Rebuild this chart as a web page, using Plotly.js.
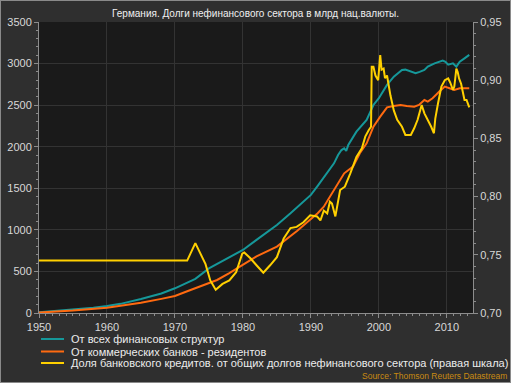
<!DOCTYPE html>
<html>
<head>
<meta charset="utf-8">
<script src="https://cdn.plot.ly/plotly-3.0.1.min.js"></script>
<style>
html,body{margin:0;padding:0;background:#2f2f2f;}
#chart{position:absolute;left:0;top:0;width:511px;height:383px;}
#frame{position:absolute;left:0;top:0;width:509px;height:381px;border:1px solid #8a8a8a;pointer-events:none;}
</style>
</head>
<body>
<div id="chart"></div>
<div id="frame"></div>
<script>
// Series 1: all financial structures (bn, left axis)
const allYears = [1950,1952,1955,1958,1960,1962,1965,1968,1970,1972,1973,1975,1978,1980,1982,1985,1987,1988,1990,1991,1992.5,1993.4,1994,1994.5,1994.9,1995.2,1995.5,1996.7,1998.2,1999.2,2000,2001.2,2002.2,2003.4,2003.9,2004.7,2005.4,2006,2006.7,2007.2,2008.2,2009.4,2009.8,2010.2,2010.9,2011.4,2011.9,2012.6,2013.3];
const allValues = [8,20,38,62,84,110,168,235,297,377,410,537,670,758,880,1059,1199,1270,1420,1530,1700,1800,1900,1960,1981,1950,2020,2181,2322,2502,2583,2743,2843,2923,2927,2903,2883,2900,2923,2963,3003,3035,3020,2987,3003,2963,3023,3063,3104];

// Series 2: resident commercial banks (bn, left axis)
const bankYears = [1950,1955,1960,1962,1965,1968,1970,1972,1974,1976.2,1978,1980,1982,1985,1987,1988,1990,1991,1991.9,1993.4,1994.9,1996.2,1997.2,1998.2,1999.2,2000.2,2001.2,2002.2,2003.2,2004.1,2005.2,2005.9,2006.7,2007.2,2007.9,2008.9,2009.7,2010.4,2011.1,2011.9,2013.3];
const bankValues = [5,30,64,85,124,170,204,268,330,397,480,577,680,798,920,990,1130,1200,1279,1480,1680,1760,1921,2041,2241,2362,2474,2490,2502,2490,2482,2502,2562,2543,2583,2663,2723,2703,2683,2703,2703];

// Series 3: share of bank credit in total non-financial debt (right axis)
const shareYears = [1950,1971.8,1973.0,1974.0,1974.5,1975.2,1976.0,1977,1978,1979,1979.9,1980.2,1981.1,1982,1983.0,1984.0,1985,1986,1987,1987.9,1988.9,1989.9,1990.9,1991.4,1991.9,1992.4,1992.8,1993.1,1993.6,1994.3,1995.0,1995.8,1996.7,1997.5,1998.0,1998.5,1998.85,1998.95,1999.2,1999.5,1999.9,2000.2,2000.4,2000.7,2000.9,2001.2,2001.4,2001.7,2002.2,2002.7,2003.4,2003.9,2004.7,2005.2,2005.7,2006.3,2006.7,2007.2,2007.7,2008.1,2008.3,2008.7,2009.2,2009.7,2010.2,2010.5,2010.9,2011.1,2011.4,2011.6,2011.8,2012.1,2012.3,2012.6,2012.9,2013.3];
const shareValues = [0.745,0.745,0.760,0.748,0.742,0.728,0.720,0.725,0.728,0.735,0.751,0.752,0.747,0.741,0.7346,0.741,0.748,0.764,0.773,0.774,0.778,0.784,0.783,0.7795,0.788,0.7856,0.7956,0.794,0.783,0.8057,0.8085,0.820,0.834,0.8415,0.8515,0.857,0.860,0.9116,0.9116,0.904,0.900,0.9216,0.909,0.910,0.9017,0.904,0.896,0.887,0.874,0.866,0.860,0.853,0.853,0.8587,0.866,0.8787,0.8715,0.866,0.860,0.8544,0.867,0.880,0.8945,0.900,0.9015,0.898,0.8916,0.8945,0.910,0.907,0.9015,0.897,0.8916,0.883,0.883,0.8767];

const seriesNames = ["От всех финансовых структур","От коммерческих банков - резидентов","Доля банковского кредитов. от общих долгов нефинансового сектора (правая шкала)"];
const seriesColors = ["#16989a","#ff6a10","#ffd000"];
const titleText = "Германия. Долги нефинансового сектора в млрд нац.валюты.";
const sourceText = "Source: Thomson Reuters Datastream";

const traces = [
  {x: allYears, y: allValues, name: seriesNames[0], type:'scatter', mode:'lines', line:{color:seriesColors[0], width:2}},
  {x: bankYears, y: bankValues, name: seriesNames[1], type:'scatter', mode:'lines', line:{color:seriesColors[1], width:2}},
  {x: shareYears, y: shareValues, name: seriesNames[2], type:'scatter', mode:'lines', yaxis:'y2', line:{color:seriesColors[2], width:2}}
];

const tickFont = {family:'Liberation Sans, Arial, sans-serif', size:11, color:'#d8d8d8'};
const axCol = '#8c8c8c';
const PW = 434, PH = 291, L = 39, T = 22;
function px(x){return (x - L)/PW;}
function py(y){return (T + PH - y)/PH;}

const shapes = [], annotations = [];
const legendRows = [339, 351.5, 363];
for (let i=0;i<3;i++){
  shapes.push({type:'line', xref:'paper', yref:'paper', x0:px(41), x1:px(64), y0:py(legendRows[i]), y1:py(legendRows[i]), line:{color:seriesColors[i], width:2}});
  annotations.push({xref:'paper', yref:'paper', x:px(69), y:py(legendRows[i]), xanchor:'left', yanchor:'middle', showarrow:false, text:seriesNames[i], font:{family:'Liberation Sans, Arial, sans-serif', size:11, color:'#ececec'}});
}
annotations.push({xref:'paper', yref:'paper', x:px(509), y:py(376), xanchor:'right', yanchor:'middle', showarrow:false, text:sourceText, font:{family:'Liberation Sans, Arial, sans-serif', size:8.5, color:'#c98a12'}});

const layout = {
  width:511, height:383,
  paper_bgcolor:'#2f2f2f', plot_bgcolor:'#1a1a1a',
  margin:{l:39, r:38, t:22, b:70, pad:0},
  separators:', ',
  showlegend:false,
  title:{text:titleText, x:0.5, xanchor:'center', y:1-13/383, yanchor:'middle', font:{family:'Liberation Sans, Arial, sans-serif', size:10, color:'#f0f0f0'}},
  xaxis:{range:[1950,2013.85], tickvals:[1950,1960,1970,1980,1990,2000,2010], ticks:'outside', ticklen:4, tickcolor:axCol,
    showline:true, linecolor:axCol, linewidth:1, showgrid:true, gridcolor:'#333333', gridwidth:1, zeroline:false,
    tickfont:tickFont, minor:{dtick:1, ticklen:2, tickcolor:axCol, showgrid:false, ticks:'outside'}},
  yaxis:{range:[0,3500], dtick:500, ticks:'outside', ticklen:4, tickcolor:axCol, showline:true, linecolor:axCol, linewidth:1,
    showgrid:true, gridcolor:'#333333', zeroline:false, tickfont:tickFont, tickformat:'d',
    minor:{dtick:100, ticklen:2, tickcolor:axCol, showgrid:false, ticks:'outside'}},
  yaxis2:{range:[0.70,0.95], dtick:0.05, overlaying:'y', side:'right', ticks:'outside', ticklen:4, tickcolor:axCol,
    showline:true, linecolor:axCol, linewidth:1, showgrid:false, zeroline:false, tickfont:tickFont, tickformat:'.2f',
    minor:{dtick:0.01, ticklen:2, tickcolor:axCol, showgrid:false, ticks:'outside'}},
  shapes:shapes, annotations:annotations
};

Plotly.newPlot('chart', traces, layout, {displayModeBar:false, staticPlot:true});
</script>
</body>
</html>
